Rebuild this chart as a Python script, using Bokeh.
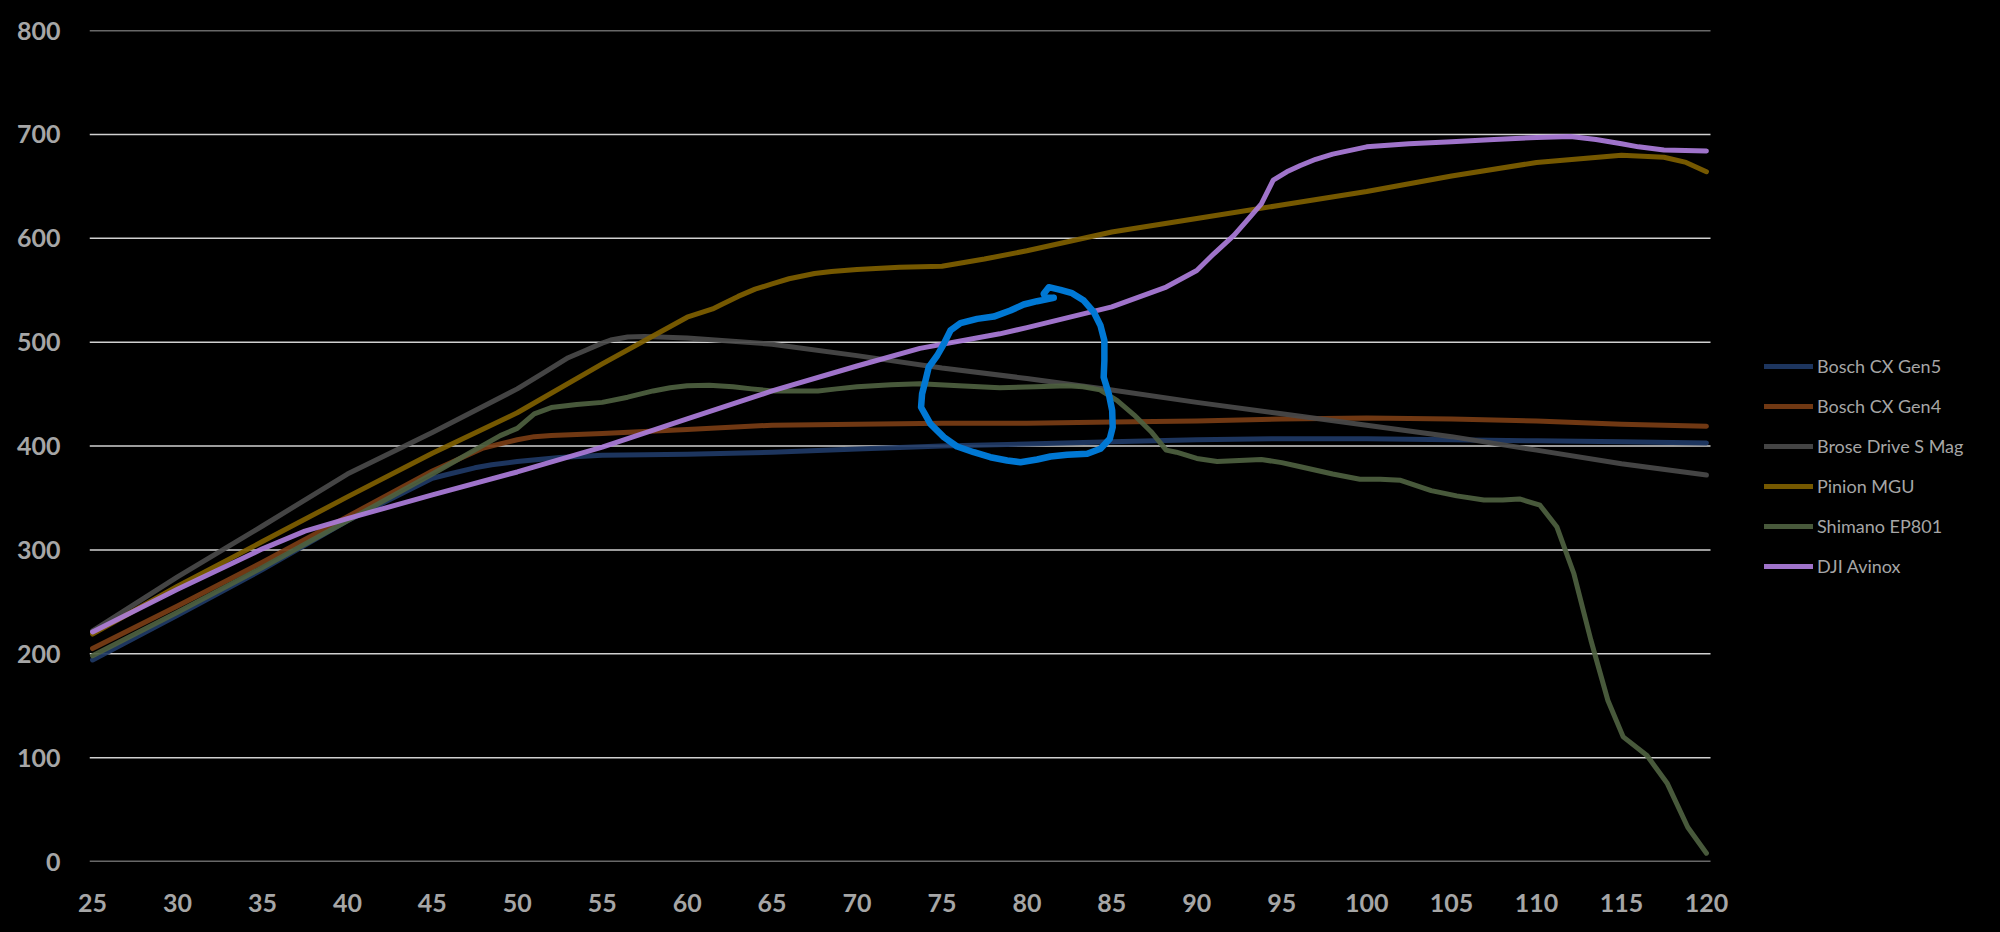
from bokeh.plotting import figure
from bokeh.models import Legend, LegendItem, FixedTicker, Range1d
from bokeh.embed import file_html
from bokeh.resources import INLINE

# ---- axis ticks ----
speed_ticks = list(range(25, 121, 5))
power_ticks = list(range(0, 801, 100))

# ---- series ----
gen5_x = [25, 30, 35, 40, 45, 46, 47.5, 48.5, 50, 52.5, 55, 60, 65, 70, 75, 80, 85, 90, 95, 100, 105, 110, 115, 120]
gen5_y = [194, 237, 281, 328, 369, 373, 379, 382, 385, 389, 391, 392, 394, 397, 400, 402, 404, 406, 407, 407, 406, 405, 404, 403]

gen4_x = [25, 30, 35, 40, 45, 48, 49, 50, 51, 52, 55, 57.5, 60, 65, 70, 75, 80, 85, 90, 95, 100, 105, 110, 115, 120]
gen4_y = [205, 246, 288, 332, 376, 398, 402, 406, 409, 410, 412, 414, 416, 420, 421, 422, 422, 423, 424, 426, 427, 426, 424, 421, 419]

brose_x = [25, 30, 35, 40, 45, 50, 51.5, 53, 54, 55, 55.5, 56.5, 57.5, 60, 65, 70, 75, 80, 85, 90, 95, 100, 105, 110, 115, 120]
brose_y = [222, 274, 323, 373, 413, 455, 470, 485, 492, 499, 502, 505, 505.5, 504, 498, 487, 475, 465, 454, 442, 431, 420, 409, 396, 383, 372]

pinion_x = [25, 30, 35, 40, 45, 50, 55, 60, 61.5, 62, 63, 64, 65, 66, 67.5, 68.5, 70, 72.5, 75, 77.5, 80, 85, 90,
            95, 100, 105, 110, 115, 117.5, 118.8, 120]
pinion_y = [219, 265, 308, 351, 393, 432, 479, 524, 532, 536, 544, 551, 556, 561, 566, 568, 570, 572, 573, 580, 588, 606, 619,
            632, 645, 660, 673, 680, 678, 673, 664]

shimano_x = [25, 30, 35, 40, 45, 49, 50, 51, 52, 53.5, 55, 56.5, 58, 59, 60, 61.3, 62.7, 63.8, 65, 66.3, 67.7, 68.8,
             70, 72, 73.7, 76, 78.4, 80.5, 82.4, 83.3, 84.3, 85.3, 86.3, 87.3, 88.2, 88.8, 90, 91.2, 92.5, 93.8,
             95, 96.1, 98, 99.6, 100.8, 102, 103.8, 105.3, 106.9, 108, 109, 110.2, 111.2, 112.2, 113.2,
             114.2, 115.1, 116.5, 117.7, 118.9, 120]
shimano_y = [198, 240, 283, 328, 373, 410, 417, 431, 437, 440, 442, 447, 453, 456, 458, 458.5, 457, 455, 453, 453, 453, 455,
             457, 459, 460, 458, 456, 457, 458, 457, 454, 444, 430, 414, 396, 394, 388, 385, 386, 387,
             384, 380, 373, 368, 368, 367, 357, 352, 348, 348, 349, 343, 322, 277, 213,
             155, 120, 102, 75, 33, 8]

dji_x = [25, 30, 32.7, 35, 37.5, 40, 45, 50, 55, 60, 65, 70, 73.7, 78.4, 80, 85, 88.2, 90, 91, 92.2, 93, 93.8, 94.5,
         95.3, 96.1, 97, 98, 100, 102.5, 105, 107.5, 110, 112, 113.5, 115, 116, 117.5, 120]
dji_y = [221, 262, 283, 301, 318, 330, 353, 375, 399, 426, 453, 477, 494, 508, 514, 534, 553, 569, 585, 603, 618, 633, 656,
         664, 670, 676, 681, 688, 691, 693, 695, 697, 698, 695, 691, 688, 685, 684]

# hand-drawn highlight loop (data coordinates)
loop_x = [81.58, 81.09, 80.99, 81.29, 81.97, 82.66, 83.35, 83.94, 84.33, 84.56, 84.56, 84.52, 84.82, 85.02,
          85.05, 84.88, 84.33, 83.55, 82.37, 81.39, 80.6, 79.62, 78.84, 77.85, 76.87, 75.89, 75.11, 74.32,
          73.77, 73.83, 74.03, 74.22, 74.72, 75.11, 75.5, 76.09, 77.07, 78.05, 79.03, 79.81, 80.6, 81.58]
loop_y = [542.6, 542.6, 546.5, 552.9, 550.3, 547.1, 540.0, 528.8, 516.0, 501.5, 482.3, 466.2, 450.2, 434.2,
          418.1, 406.9, 397.3, 392.5, 391.5, 389.9, 387.0, 384.4, 386.0, 389.2, 394.0, 399.5, 408.5, 421.3,
          437.3, 450.2, 463.0, 475.8, 487.1, 498.4, 511.2, 518.2, 522.4, 524.6, 530.4, 536.2, 539.4, 542.6]

series_names = ["Bosch CX Gen5", "Bosch CX Gen4", "Brose Drive S Mag", "Pinion MGU", "Shimano EP801", "DJI Avinox"]
series_colors = ["#203a66", "#7a3d15", "#4a4a4a", "#7f6000", "#4e6140", "#ad7ddb"]
series_data = [(gen5_x, gen5_y), (gen4_x, gen4_y), (brose_x, brose_y),
               (pinion_x, pinion_y), (shimano_x, shimano_y), (dji_x, dji_y)]

x_start, x_end = 24.82, 120.24
# frame extends under the legend area; grid lines are drawn only over the data span
p = figure(width=2000, height=932, output_backend="svg", toolbar_location=None,
           x_range=Range1d(x_start, 137.31), y_range=Range1d(0, 800),
           background_fill_color="black", border_fill_color="black",
           min_border_left=89, min_border_right=0, min_border_top=30, min_border_bottom=71)
p.outline_line_color = None
p.styles = {"background-color": "black"}

p.xgrid.grid_line_color = None
p.ygrid.grid_line_color = None
p.segment(x0=[x_start] * len(power_ticks), x1=[x_end] * len(power_ticks),
          y0=power_ticks, y1=power_ticks, line_color="#d0d0d0", line_width=1.5)

for ax in (p.xaxis, p.yaxis):
    ax.axis_line_color = None
    ax.major_tick_line_color = None
    ax.minor_tick_line_color = None
    ax.major_tick_out = 0
    ax.major_tick_in = 0
    ax.major_label_text_color = "#a6a6a6"
    ax.major_label_text_font = "Lato"
    ax.major_label_text_font_style = "bold"
    ax.major_label_text_font_size = "25px"

p.xaxis.ticker = FixedTicker(ticks=speed_ticks)
p.yaxis.ticker = FixedTicker(ticks=power_ticks)
p.xaxis.major_label_standoff = 32
p.yaxis.major_label_standoff = 29

items = []
for name, color, (xs, ys) in zip(series_names, series_colors, series_data):
    r = p.line(xs, ys, line_color=color, line_width=5, line_alpha=0.92,
               line_join="round", line_cap="round")
    items.append(LegendItem(label=name, renderers=[r]))

p.line(loop_x, loop_y, line_color="#0078d4", line_width=6.5, line_join="round", line_cap="round")

legend = Legend(items=items, location=(1675, 284), orientation="vertical",
                background_fill_alpha=0, border_line_color=None,
                label_text_color="#a6a6a6", label_text_font="Lato", label_text_font_size="18px",
                glyph_width=49, glyph_height=20, label_height=20, label_standoff=4,
                spacing=18, padding=0, margin=0)
p.add_layout(legend, "center")

open("out.html", "w").write(file_html(p, INLINE))
